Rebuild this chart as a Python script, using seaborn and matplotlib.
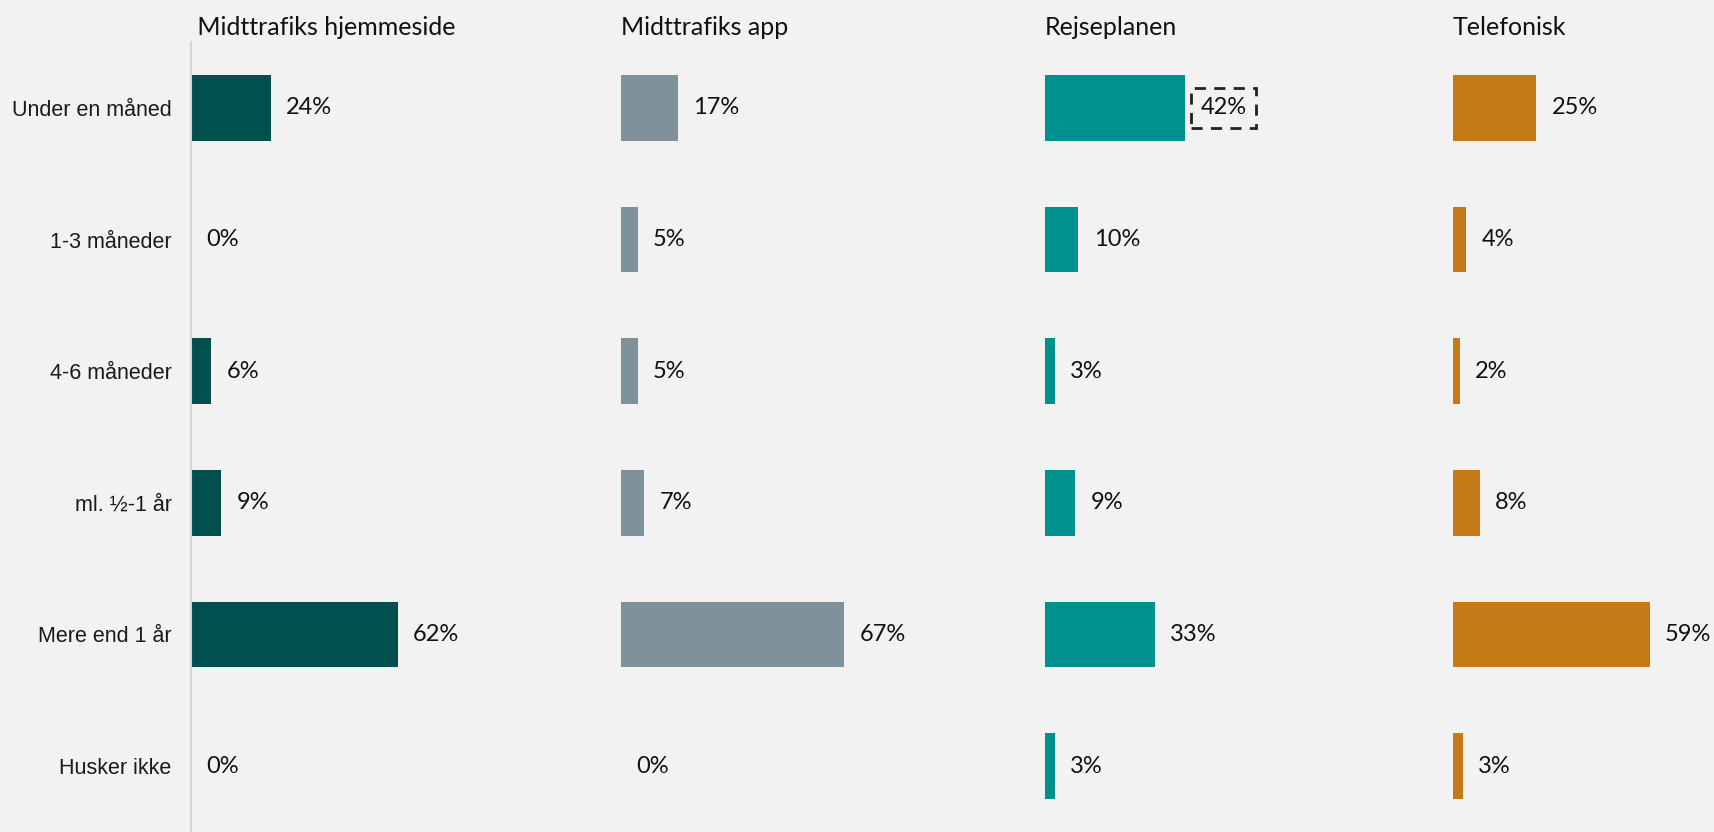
import pandas as pd
import matplotlib.pyplot as plt
import seaborn as sns

# Categories and shares (%) per channel
categories = ["Under en måned", "1-3 måneder", "4-6 måneder", "ml. ½-1 år", "Mere end 1 år", "Husker ikke"]
hjemmeside = [24, 0, 6, 9, 62, 0]
app = [17, 5, 5, 7, 67, 0]
rejseplanen = [42, 10, 3, 9, 33, 3]
telefonisk = [25, 4, 2, 8, 59, 3]

panels = [
    ("Midttrafiks hjemmeside", hjemmeside, "#024f50"),
    ("Midttrafiks app", app, "#7f929b"),
    ("Rejseplanen", rejseplanen, "#00918e"),
    ("Telefonisk", telefonisk, "#c47a17"),
]
highlight = ("Rejseplanen", "Under en måned")

sns.set_theme(style="white")
bg = "#f2f2f2"
plt.rcParams["font.family"] = ["Lato", "DejaVu Sans"]

W, H = 1715, 832
fig = plt.figure(figsize=(W / 100, H / 100), dpi=100, facecolor=bg)

lefts = [191, 621, 1045, 1453]
top, axw = 42, 260

for i, (title, vals, color) in enumerate(panels):
    ax = fig.add_axes([lefts[i] / W, 0, axw / W, (H - top) / H])
    ax.set_facecolor(bg)
    df = pd.DataFrame({"kategori": categories, "andel": vals})
    sns.barplot(data=df, x="andel", y="kategori", orient="h", color=color,
                width=0.5, saturation=1, linewidth=0, ax=ax)
    ax.set_xlim(0, 78)
    ax.set_ylim(5.5, -0.5)
    ax.set_xlabel("")
    ax.set_ylabel("")
    ax.set_xticks([])
    ax.set_title(" " + title if i == 0 else title, loc="left", fontsize=18,
                 pad=5, color="#111111")

    texts = ax.bar_label(ax.containers[0], labels=[f"{v}%" for v in vals],
                         padding=11, fontsize=17, color="#111111")
    if title == highlight[0]:
        t = texts[categories.index(highlight[1])]
        t.set_bbox(dict(boxstyle="square,pad=0.4", fc="none", ec="#222222",
                        ls=(0, (4, 3)), lw=2))

    for s in ["top", "right", "bottom"]:
        ax.spines[s].set_visible(False)
    if i == 0:
        ax.spines["left"].set_color("#d4d4d4")
        ax.spines["left"].set_linewidth(1.5)
        ax.tick_params(axis="y", length=0, pad=14)
        for lab in ax.get_yticklabels():
            lab.set_fontfamily(["Liberation Sans", "DejaVu Sans"])
            lab.set_fontsize(15.5)
            lab.set_color("#1a1a1a")
    else:
        ax.spines["left"].set_visible(False)
        ax.set_yticks([])

fig.savefig("out.png", dpi=100, facecolor=bg)
